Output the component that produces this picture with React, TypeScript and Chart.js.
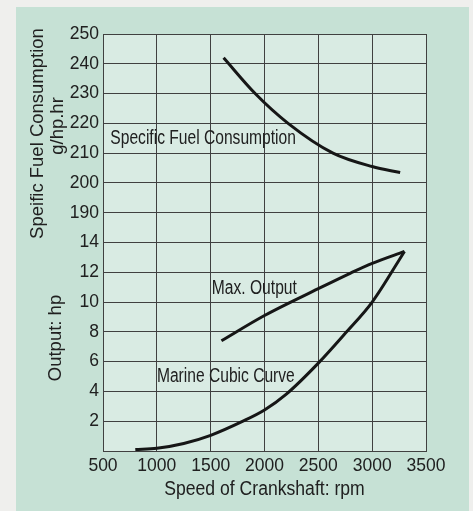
import React, { useEffect, useRef } from 'react';
import { Chart, registerables } from 'chart.js';

Chart.register(...registerables);

// X axis (rpm)
const rpmMin = 500;
const rpmMax = 3500;
const rpmStep = 500;

// Specific fuel consumption curve (g/hp.hr)
const sfcRpm = [1620, 1913, 2219, 2636, 3000, 3260];
const sfcValues = [242, 230, 220, 210, 205.5, 203.5];

// Max. output curve (hp)
const maxOutRpm = [1600, 2000, 2500, 2800, 3000, 3300];
const maxOutHp = [7.4, 9.1, 10.9, 11.95, 12.6, 13.4];

// Marine cubic curve (hp)
const cubicRpm = [800, 1000, 1250, 1500, 1800, 2000, 2200, 2500, 2750, 3000, 3300];
const cubicHp = [0.1, 0.18, 0.5, 1.05, 2.0, 2.75, 3.8, 5.9, 7.9, 10.0, 13.4];

// Tick labels on the combined left axis
const hpTickLabels = ['2', '4', '6', '8', '10', '12', '14'];
const sfcTickLabels = ['190', '200', '210', '220', '230', '240', '250'];

// In-plot curve labels (anchored in data units)
const curveLabels = [
  { text: 'Specific Fuel Consumption', rpm: 568, value: 214.9, axis: 'sfc' },
  { text: 'Max. Output', rpm: 1511, value: 10.93, axis: 'y' },
  { text: 'Marine Cubic Curve', rpm: 1001, value: 4.99, axis: 'y' },
];

const REGULAR = '"Liberation Sans", Arial, sans-serif';
const INK = '#202020';
const GRID = '#404040';

export default function App() {
  const ref = useRef<HTMLCanvasElement | null>(null);

  useEffect(() => {
    document.body.style.margin = '0';
    const canvas = ref.current;
    if (!canvas) return;

    const decor = {
      id: 'decor',
      beforeDraw(chart: any) {
        const { ctx, chartArea } = chart;
        ctx.save();
        ctx.fillStyle = '#d9ebe3';
        ctx.fillRect(chartArea.left, chartArea.top, chartArea.right - chartArea.left, chartArea.bottom - chartArea.top);
        ctx.restore();
      },
      afterDraw(chart: any) {
        const { ctx, chartArea, scales } = chart;
        ctx.save();
        ctx.fillStyle = INK;
        const narrow = (text: string, x: number, y: number, sx: number, align: string, baseline: string) => {
          ctx.save();
          ctx.translate(x, y);
          ctx.scale(sx, 1);
          ctx.textAlign = align;
          ctx.textBaseline = baseline;
          ctx.fillText(text, 0, 0);
          ctx.restore();
        };
        // curve labels
        ctx.font = '20px ' + REGULAR;
        for (const l of curveLabels) {
          const x = scales.x.getPixelForValue(l.rpm);
          const y = scales[l.axis].getPixelForValue(l.value);
          narrow(l.text, x, y, 0.78, 'left', 'middle');
        }
        // x title
        ctx.font = '20px ' + REGULAR;
        narrow('Speed of Crankshaft: rpm', (chartArea.left + chartArea.right) / 2, 495, 0.88, 'center', 'alphabetic');
        // left titles
        ctx.font = '18.5px ' + REGULAR;
        const rot = (text: string, bx: number, cy: number) => {
          ctx.save();
          ctx.translate(bx, cy);
          ctx.rotate(-Math.PI / 2);
          ctx.textAlign = 'center';
          ctx.textBaseline = 'alphabetic';
          ctx.fillText(text, 0, 0);
          ctx.restore();
        };
        rot('Speific Fuel Consumption', 42.5, 133.5);
        rot('g/hp.hr', 63, 126);
        rot('Output: hp', 60.5, 338);
        ctx.restore();
      },
    };

    const line = (data: { x: number; y: number }[], axis: string) => ({
      data,
      yAxisID: axis,
      borderColor: '#161616',
      borderWidth: 3,
      pointRadius: 0,
      cubicInterpolationMode: 'monotone',
      fill: false,
    });

    const chart = new Chart(canvas, {
      type: 'line',
      data: {
        datasets: [
          line(sfcRpm.map((x, i) => ({ x, y: sfcValues[i] })), 'sfc'),
          line(maxOutRpm.map((x, i) => ({ x, y: maxOutHp[i] })), 'y'),
          line(cubicRpm.map((x, i) => ({ x, y: cubicHp[i] })), 'y'),
        ],
      },
      options: {
        animation: false,
        responsive: false,
        devicePixelRatio: 1,
        layout: { padding: { top: 34, right: 47, bottom: 0, left: 0 } },
        plugins: { legend: { display: false }, tooltip: { enabled: false } },
        scales: {
          x: {
            type: 'linear',
            min: rpmMin,
            max: rpmMax,
            afterFit: (s: any) => { s.height = 60; },
            grid: { color: GRID, lineWidth: 1, drawTicks: false },
            border: { color: GRID, width: 1 },
            ticks: {
              stepSize: rpmStep,
              autoSkip: false,
              maxRotation: 0,
              padding: 5,
              color: INK,
              font: { family: REGULAR, size: 17.5 },
              callback: (v: any) => String(v),
            },
          },
          y: {
            type: 'linear',
            min: 0,
            max: 28,
            afterFit: (s: any) => { s.width = 103; },
            grid: { color: GRID, lineWidth: 1, drawTicks: false },
            border: { color: GRID, width: 1 },
            ticks: {
              stepSize: 2,
              autoSkip: false,
              padding: 4,
              color: INK,
              font: { family: REGULAR, size: 17.5 },
              callback: (v: any) => {
                const n = Number(v);
                if (n <= 0) return '';
                if (n <= 14) return hpTickLabels[n / 2 - 1];
                return sfcTickLabels[(n - 16) / 2];
              },
            },
          },
          sfc: {
            type: 'linear',
            display: false,
            min: 110,
            max: 250,
          },
        },
      },
      plugins: [decor],
    } as any);

    return () => chart.destroy();
  }, []);

  return (
    <div style={{ position: 'relative', width: 473, height: 511, background: '#efefed', overflow: 'hidden' }}>
      <div style={{ position: 'absolute', left: 16, top: 7, width: 453, height: 504, background: '#c6e1d5' }} />
      <canvas ref={ref} width={473} height={511} style={{ position: 'absolute', left: 0, top: 0, width: 473, height: 511 }} />
    </div>
  );
}
